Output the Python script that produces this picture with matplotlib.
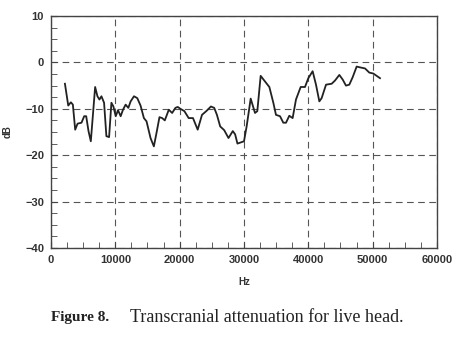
import numpy as np
import matplotlib.pyplot as plt
from matplotlib.ticker import MultipleLocator

# attenuation curve
hz = [2166, 2680, 3090, 3400, 3760, 4130, 4740, 5160, 5470, 5830, 6190, 6860,
      7220, 7530, 7840, 8250, 8610, 9030, 9390, 9700, 10060, 10420, 10830,
      11190, 11600, 12020, 12380, 12900, 13410, 13920, 14440, 14850, 15470,
      15990, 16400, 16860, 17280, 17690, 18310, 18830, 19340, 19700, 20110,
      20730, 21400, 22070, 22800, 23470, 24140, 24860, 25370, 25790, 26300,
      26920, 27590, 28260, 28620, 28980, 29390, 30000, 30410, 31040, 31710,
      32070, 32590, 33260, 33940, 34560, 34970, 35600, 36110, 36530, 37040,
      37560, 38080, 38810, 39480, 40000, 40670, 41190, 41710, 42070, 42750,
      43630, 44150, 44820, 45340, 45850, 46370, 46890, 47510, 48130, 48810,
      49480, 50100, 51140]
db = [-4.6, -9.3, -8.6, -9.1, -14.5, -13.2, -13.0, -11.6, -11.6, -14.8, -17.0,
      -5.3, -7.3, -8.0, -7.3, -8.7, -15.9, -16.1, -8.7, -9.5, -11.6, -10.3,
      -11.6, -10.2, -9.1, -9.8, -8.4, -7.3, -7.7, -9.3, -12.0, -12.7, -16.3,
      -18.1, -15.2, -11.8, -12.0, -12.5, -10.2, -10.9, -9.8, -9.6, -10.0,
      -10.5, -12.0, -12.0, -14.5, -11.3, -10.5, -9.5, -9.8, -11.3, -13.8,
      -14.6, -16.3, -14.8, -15.5, -17.5, -17.3, -17.0, -13.8, -7.8, -10.9,
      -10.5, -2.9, -4.1, -5.3, -8.7, -11.3, -11.6, -13.0, -13.0, -11.5, -12.0,
      -8.0, -5.3, -5.3, -3.4, -1.9, -4.8, -8.4, -7.7, -4.8, -4.6, -3.9, -2.7,
      -3.7, -5.0, -4.8, -3.2, -0.9, -1.1, -1.3, -2.2, -2.4, -3.4]

plt.rcParams['font.family'] = ['Liberation Sans', 'DejaVu Sans']

fig = plt.figure(figsize=(4.77, 3.48), dpi=100)
ax = fig.add_axes([51/477, 1 - 248/348, 386/477, 232/348])

ax.plot(hz, db, color='#222222', lw=1.3, solid_joinstyle='round')

ax.set_xlim(0, 60000)
ax.set_ylim(-40, 10)
ax.xaxis.set_major_locator(MultipleLocator(10000))
ax.xaxis.set_minor_locator(MultipleLocator(2500))
ax.yaxis.set_major_locator(MultipleLocator(10))
ax.yaxis.set_minor_locator(MultipleLocator(2.5))
ax.tick_params(which='both', direction='in', color='#444444', labelsize=8)
ax.tick_params(which='major', length=4, pad=5)
ax.tick_params(which='minor', length=4)
for lbl in ax.get_xticklabels() + ax.get_yticklabels():
    lbl.set_fontweight('bold')
    lbl.set_color('#333333')

ax.grid(True, which='major', linestyle=(0, (6, 4)), color='#555555', lw=0.8)
for s in ax.spines.values():
    s.set_color('#444444')
    s.set_linewidth(1.0)

ax.set_xlabel('Hz', fontsize=7, fontweight='bold', color='#333333', labelpad=9)
ax.set_ylabel('dB', fontsize=7, fontweight='bold', color='#333333', labelpad=9)

fig.text(51/477, 1 - 318/348, 'Figure 8.', family='Liberation Serif',
         fontweight='bold', fontsize=11, va='center', color='#222222')
fig.text(130/477, 1 - 318/348, 'Transcranial attenuation for live head.',
         family='Liberation Serif', fontsize=13, va='center', color='#222222')

fig.savefig('out.png', dpi=100)
